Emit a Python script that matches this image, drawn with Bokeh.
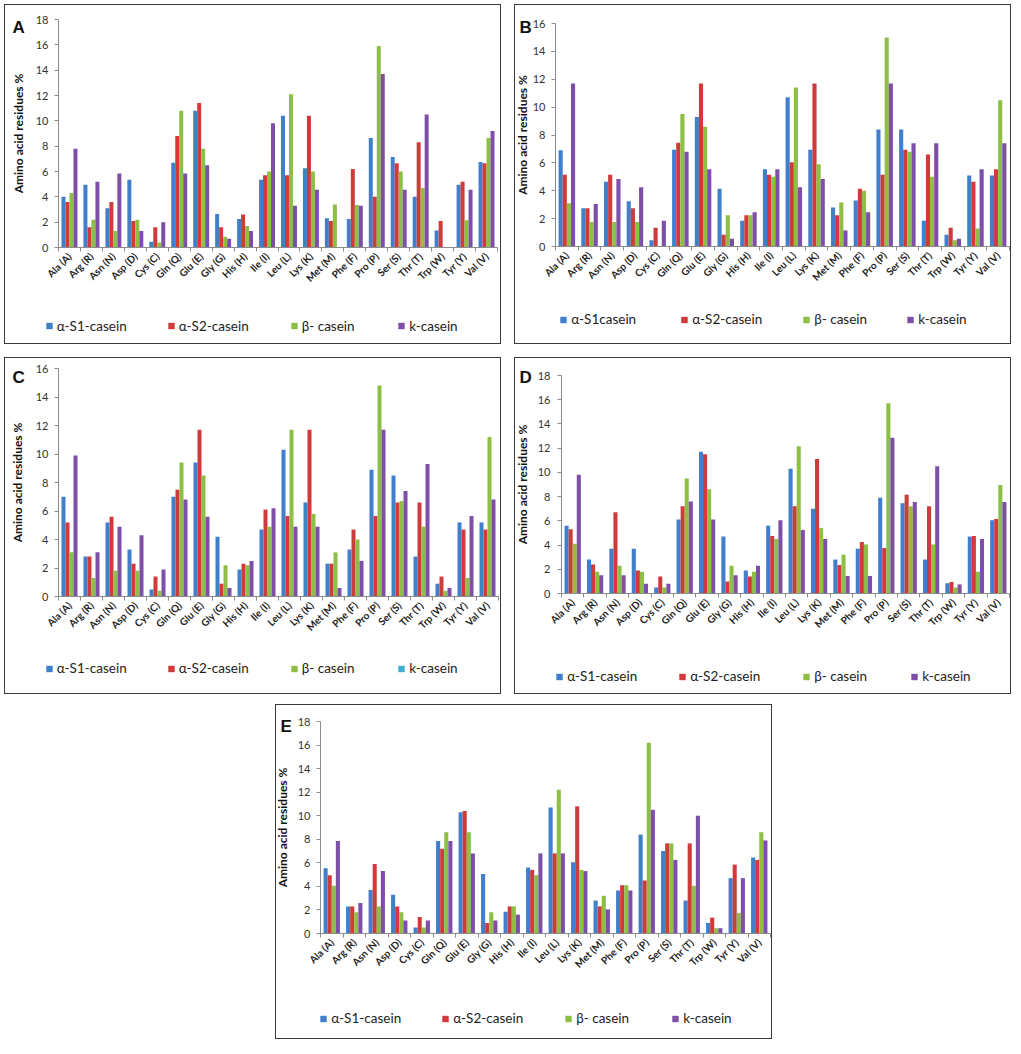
import math
import numpy as np
from bokeh.plotting import figure
from bokeh.models import (ColumnDataSource, FixedTicker, Legend, LegendItem, Label,
                          LinearAxis, Range1d, Spacer)
from bokeh.layouts import row, column
from bokeh.embed import file_html
from bokeh.resources import INLINE

amino_acids = ["Ala (A)", "Arg (R)", "Asn (N)", "Asp (D)", "Cys (C)", "Gln (Q)",
               "Glu (E)", "Gly (G)", "His (H)", "Ile (I)", "Leu (L)", "Lys (K)",
               "Met (M)", "Phe (F)", "Pro (P)", "Ser (S)", "Thr (T)", "Trp (W)",
               "Tyr (Y)", "Val (V)"]

# Panel A
A_as1 = [4.0, 4.95, 3.1, 5.35, 0.45, 6.7, 10.8, 2.65, 2.25, 5.35, 10.4, 6.25, 2.3, 2.25, 8.65, 7.15, 4.0, 1.35, 4.95, 6.75]
A_as2 = [3.6, 1.6, 3.6, 2.1, 1.6, 8.8, 11.4, 1.6, 2.6, 5.7, 5.7, 10.4, 2.1, 6.2, 4.0, 6.65, 8.3, 2.1, 5.2, 6.65]
A_beta = [4.3, 2.2, 1.3, 2.2, 0.4, 10.8, 7.8, 0.85, 1.7, 6.0, 12.1, 6.0, 3.4, 3.35, 15.9, 6.0, 4.7, 0.0, 2.15, 8.65]
A_kappa = [7.8, 5.2, 5.85, 1.3, 2.0, 5.85, 6.5, 0.7, 1.3, 9.8, 3.3, 4.55, 0.0, 3.3, 13.7, 4.55, 10.5, 0.0, 4.55, 9.2]

# Panel B
B_as1 = [6.9, 2.75, 4.65, 3.25, 0.45, 6.95, 9.3, 4.15, 1.85, 5.55, 10.7, 6.95, 2.8, 3.3, 8.4, 8.4, 1.85, 0.85, 5.1, 5.1]
B_as2 = [5.15, 2.75, 5.15, 2.75, 1.35, 7.45, 11.7, 0.85, 2.25, 5.15, 6.05, 11.7, 2.25, 4.15, 5.15, 6.95, 6.6, 1.35, 4.65, 5.55]
B_beta = [3.1, 1.75, 1.75, 1.75, 0.0, 9.5, 8.6, 2.25, 2.25, 5.0, 11.4, 5.9, 3.15, 4.0, 15.0, 6.8, 5.0, 0.45, 1.3, 10.5]
B_kappa = [11.7, 3.05, 4.85, 4.25, 1.85, 6.8, 5.55, 0.55, 2.45, 5.55, 4.25, 4.85, 1.15, 2.45, 11.7, 7.4, 7.4, 0.55, 5.55, 7.4]

# Panel C
C_as1 = [7.0, 2.8, 5.2, 3.3, 0.5, 7.0, 9.4, 4.2, 1.9, 4.7, 10.3, 6.6, 2.3, 3.3, 8.9, 8.5, 2.8, 0.9, 5.2, 5.2]
C_as2 = [5.2, 2.8, 5.6, 2.3, 1.4, 7.5, 11.7, 0.9, 2.3, 6.1, 5.65, 11.7, 2.3, 4.7, 5.65, 6.6, 6.6, 1.4, 4.7, 4.7]
C_beta = [3.1, 1.3, 1.8, 1.8, 0.4, 9.4, 8.5, 2.2, 2.2, 4.9, 11.7, 5.8, 3.1, 4.0, 14.8, 6.7, 4.9, 0.4, 1.3, 11.2]
C_kappa = [9.9, 3.1, 4.9, 4.3, 1.9, 6.8, 5.6, 0.6, 2.5, 6.2, 4.9, 4.9, 0.6, 2.5, 11.7, 7.4, 9.3, 0.6, 5.65, 6.8]

# Panel D
D_as1 = [5.6, 2.8, 3.7, 3.7, 0.5, 6.1, 11.7, 4.7, 1.9, 5.6, 10.3, 7.0, 2.8, 3.7, 7.9, 7.45, 2.8, 0.85, 4.7, 6.05]
D_as2 = [5.3, 2.4, 6.7, 1.9, 1.4, 7.2, 11.5, 1.0, 1.4, 4.75, 7.2, 11.1, 2.35, 4.25, 3.75, 8.15, 7.2, 0.95, 4.75, 6.15]
D_beta = [4.1, 1.8, 2.3, 1.8, 0.5, 9.5, 8.6, 2.3, 1.8, 4.5, 12.15, 5.4, 3.2, 4.05, 15.7, 7.2, 4.05, 0.5, 1.8, 8.95]
D_kappa = [9.8, 1.5, 1.5, 0.8, 0.8, 7.6, 6.1, 1.5, 2.3, 6.05, 5.25, 4.5, 1.45, 1.45, 12.85, 7.55, 10.5, 0.75, 4.5, 7.55]

# Panel E
E_as1 = [5.55, 2.3, 3.7, 3.3, 0.5, 7.85, 10.3, 5.05, 1.85, 5.6, 10.7, 6.05, 2.8, 3.65, 8.4, 7.0, 2.8, 0.9, 4.7, 6.45]
E_as2 = [4.95, 2.3, 5.9, 2.3, 1.4, 7.2, 10.4, 0.9, 2.3, 5.4, 6.8, 10.8, 2.3, 4.1, 4.5, 7.65, 7.65, 1.35, 5.85, 6.25]
E_beta = [4.05, 1.8, 2.3, 1.8, 0.5, 8.6, 8.6, 1.8, 2.3, 4.95, 12.2, 5.4, 3.2, 4.1, 16.2, 7.65, 4.05, 0.45, 1.75, 8.6]
E_kappa = [7.85, 2.6, 5.3, 1.1, 1.1, 7.85, 6.8, 1.1, 1.6, 6.8, 6.8, 5.3, 2.05, 3.65, 10.5, 6.25, 10.0, 0.45, 4.7, 7.9]

labels_std = ["α-S1-casein", "α-S2-casein", "β- casein", "k-casein"]
labels_B = ["α-S1casein", "α-S2-casein", "β- casein", "k-casein"]

BAR_COLORS = ["#3F7FCC", "#D03A3A", "#8DBF45", "#7D4FA8"]
CYAN = "#42AFD2"
FONT = "Lato"
AXIS_GRAY = "#8c8c8c"
GLYPH_BOX = 16     # legend glyph box; the square marker is 0.4 of it
LEG_H = 17


def make_panel(letter, series, ymax, geo, labels, legend_xs, legend_y,
               letter_pos, lab_standoff, title_standoff, legend_colors):
    W, H, fl, fr, ft, fb = geo
    n = len(amino_acids)
    # the frame fills the whole panel; the axes sit at x=0 / y=0 inside it
    kx = (fr - fl) / n
    ky = (fb - ft) / ymax
    xr = Range1d(-fl / kx, n + (W - fr) / kx)
    yr = Range1d(-(H - fb) / ky, ymax + ft / ky)
    p = figure(width=W, height=H, x_range=xr, y_range=yr,
               x_axis_type=None, y_axis_type=None,
               output_backend="svg", toolbar_location=None, min_border=0)
    p.outline_line_color = None
    p.xgrid.visible = False
    p.ygrid.visible = False
    p.background_fill_color = "white"
    p.border_fill_color = "white"
    p.styles = {"border": "1.5px solid #3a3a3a"}

    x0 = np.arange(n) + 0.5
    bw = 1 / 5.5
    for k, vals in enumerate(series):
        src = ColumnDataSource(dict(x=x0 + (k - 1.5) * bw, top=vals))
        p.vbar(x="x", top="top", width=bw, source=src,
               fill_color=BAR_COLORS[k], line_color=None)

    xa = LinearAxis(fixed_location=0, bounds=(0, n))
    xa.ticker = FixedTicker(ticks=[float(v) for v in x0], minor_ticks=list(range(n + 1)))
    xa.major_label_overrides = {float(v): aa for v, aa in zip(x0, amino_acids)}
    xa.major_label_orientation = math.pi / 4
    xa.major_tick_line_color = None
    xa.major_tick_out = 4
    xa.minor_tick_line_color = AXIS_GRAY
    xa.minor_tick_out = 4
    xa.minor_tick_in = 0
    xa.axis_line_color = AXIS_GRAY
    xa.major_label_text_font = FONT
    xa.major_label_text_font_size = "10px"
    xa.major_label_text_font_style = "bold"
    xa.major_label_text_color = "#222222"
    xa.major_label_standoff = 3
    p.add_layout(xa, "below")

    ya = LinearAxis(fixed_location=0, bounds=(0, ymax))
    ya.ticker = FixedTicker(ticks=list(range(0, ymax + 1, 2)))
    ya.axis_label = "Amino acid residues %"
    ya.axis_label_text_font = FONT
    ya.axis_label_text_font_size = "12px"
    ya.axis_label_text_font_style = "bold"
    ya.axis_label_text_color = "#111111"
    ya.axis_label_standoff = title_standoff
    ya.major_label_text_font = FONT
    ya.major_label_text_font_size = "11px"
    ya.major_label_text_color = "#333333"
    ya.major_label_standoff = lab_standoff
    ya.axis_line_color = AXIS_GRAY
    ya.major_tick_line_color = AXIS_GRAY
    ya.major_tick_out = 4
    ya.major_tick_in = 0
    ya.minor_tick_line_color = None
    p.add_layout(ya, "left")

    # legend: one entry per series; a zero-size square marker gives the swatch
    inset = GLYPH_BOX * 0.3
    for k in range(4):
        rr = p.scatter(x=[0.5], y=[0.0], size=0, marker="square",
                       fill_color=legend_colors[k], line_color=None)
        lg = Legend(items=[LegendItem(label=labels[k], renderers=[rr])],
                    location=(legend_xs[k] - inset, H - legend_y - LEG_H / 2),
                    orientation="horizontal", padding=0, margin=0, spacing=0,
                    border_line_color=None, background_fill_alpha=0,
                    glyph_width=GLYPH_BOX, glyph_height=LEG_H, label_standoff=-1,
                    label_height=LEG_H,
                    label_text_font=FONT, label_text_font_size="13.5px",
                    label_text_color="#222222")
        p.add_layout(lg)

    lx, lbase = letter_pos
    p.add_layout(Label(x=lx, y=H - lbase, x_units="screen", y_units="screen",
                       text=letter, text_font="Liberation Sans", text_font_size="17px",
                       text_font_style="bold", text_baseline="alphabetic",
                       text_color="#111111"))
    return p


std_cols = BAR_COLORS
c_cols = BAR_COLORS[:3] + [CYAN]

pA = make_panel("A", [A_as1, A_as2, A_beta, A_kappa], 18, (497, 340, 53, 492, 14, 242),
                labels_std, [40.5, 162.5, 285.5, 393], 320.5, (7, 22), 6, 7, std_cols)
pB = make_panel("B", [B_as1, B_as2, B_beta, B_kappa], 16, (497, 340, 40, 494, 18, 241),
                labels_B, [45, 166, 288, 392], 314, (4, 22), 6, 0, std_cols)
pC = make_panel("C", [C_as1, C_as2, C_beta, C_kappa], 16, (497, 337, 53, 493, 10, 238),
                labels_std, [40.5, 162.5, 285.5, 393], 310, (7, 19), 6, 8, c_cols)
pD = make_panel("D", [D_as1, D_as2, D_beta, D_kappa], 18, (497, 337, 46, 494, 17, 235),
                labels_std, [41, 164, 288, 396], 318, (4, 19), 7, 5, std_cols)
pE = make_panel("E", [E_as1, E_as2, E_beta, E_kappa], 18, (497, 335, 44, 494, 16, 228),
                labels_std, [44, 166, 289, 396], 313, (4, 21), 6, 5, std_cols)

layout = column(Spacer(height=4),
                row(Spacer(width=4), pA, Spacer(width=13), pB),
                Spacer(height=13),
                row(Spacer(width=4), pC, Spacer(width=13), pD),
                Spacer(height=10),
                row(Spacer(width=275), pE))

open("out.html", "w").write(file_html(layout, INLINE))
